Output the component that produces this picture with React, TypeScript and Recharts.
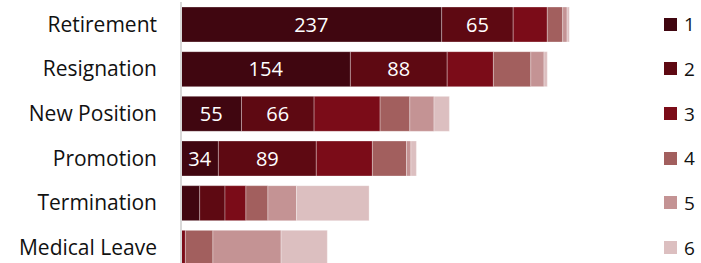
import { BarChart, Bar, XAxis, YAxis, LabelList } from "recharts";

// Motivos de salida y los 6 niveles apilados
const categories = ["Retirement", "Resignation", "New Position", "Promotion", "Termination", "Medical Leave"];
const level1 = [237, 154, 55, 34, 17, 0];
const level2 = [65, 88, 66, 89, 23, 0];
const level3 = [31, 42, 60, 51, 19, 4];
const level4 = [14, 34, 27, 31, 20, 25];
const level5 = [4, 12, 22, 4, 26, 62];
const level6 = [2, 3, 14, 5, 66, 42];
const seriesNames = ["1", "2", "3", "4", "5", "6"];

// Colores (oscuro → claro)
const COLORS = ["#400610", "#5e0912", "#7b0c18", "#a25f5e", "#c49394", "#dcbfc0"];

const FONT = "'Open Sans', sans-serif";

const levels = [level1, level2, level3, level4, level5, level6];
const data = categories.map((name, i) => {
  const row: Record<string, string | number> = { name };
  seriesNames.forEach((s, j) => {
    row[s] = levels[j][i];
  });
  return row;
});

/** Leyenda vertical, un renglón por cada banda */
function LegendBox() {
  return (
    <div style={{ position: "absolute", left: 664, top: 2, fontFamily: FONT }}>
      {seriesNames.map((s, i) => (
        <div key={s} style={{ height: 44.67, display: "flex", alignItems: "center" }}>
          <span style={{ width: 13, height: 13, background: COLORS[i], display: "inline-block", marginRight: 7 }} />
          <span style={{ fontSize: 19, color: "#111" }}>{s}</span>
        </div>
      ))}
    </div>
  );
}

export default function App() {
  return (
    <div style={{ position: "fixed", top: 0, left: 0, width: 701, height: 263, overflow: "hidden", background: "#fff" }}>
      <BarChart
        width={701}
        height={272}
        data={data}
        layout="vertical"
        margin={{ top: 2, right: 80, bottom: 2, left: 0 }}
      >
        <XAxis type="number" hide domain={[0, 400]} />
        <YAxis
          type="category"
          dataKey="name"
          width={181}
          tickLine={false}
          tickSize={6}
          tickMargin={18}
          axisLine={{ stroke: "#d9d9d9", strokeWidth: 2 }}
          tick={{ fontSize: 21, fill: "#111", fontFamily: FONT }}
        />
        {seriesNames.map((s, i) => (
          <Bar
            key={s}
            dataKey={s}
            stackId="a"
            fill={COLORS[i]}
            barSize={35}
            stroke="#ffffff"
            strokeOpacity={0.3}
            strokeWidth={1}
            isAnimationActive={false}
          >
            {i < 2 && (
              <LabelList
                dataKey={s}
                position="center"
                fill="#ffffff"
                fontSize={20}
                fontFamily={FONT}
                formatter={(v: number) => (v >= 30 ? v : "")}
              />
            )}
          </Bar>
        ))}
      </BarChart>
      <LegendBox />
    </div>
  );
}
